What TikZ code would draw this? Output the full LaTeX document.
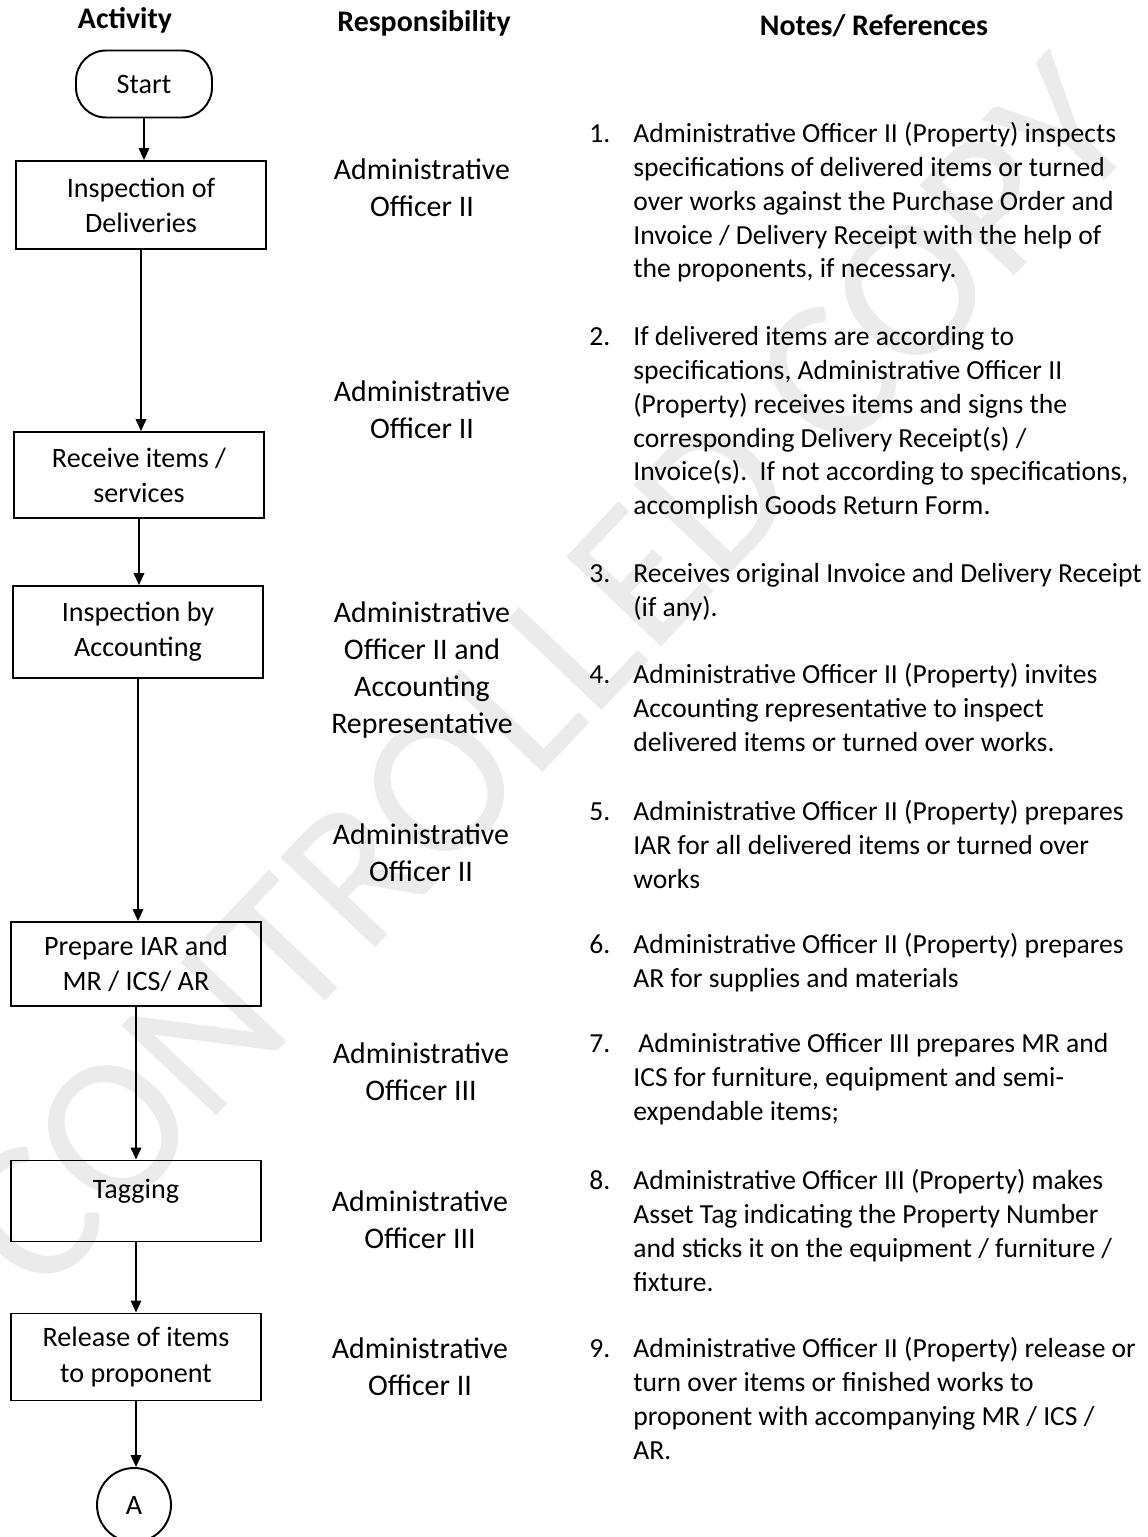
\documentclass[tikz,border=0pt]{standalone}
\usepackage{fontspec}
\setmainfont{Carlito}
\usetikzlibrary{arrows.meta,positioning}

\newcommand{\nt}[2]{\begin{tabular}{@{}p{0.88cm}@{}l@{}}#1 & #2\end{tabular}}

\begin{document}
\begin{tikzpicture}[x=0.02cm, y=-0.02cm,
        box/.style={draw, line width=1.1pt, minimum width=5cm, align=center, font=\fontsize{16}{20}\selectfont},
        resp/.style={align=center, font=\fontsize{17}{21}\selectfont},
        head/.style={font=\bfseries\fontsize{17}{21}\selectfont},
        note/.style={anchor=north west, inner sep=0pt, font=\fontsize{15.7}{19.2}\selectfont},
        arr/.style={line width=1.1pt, -{Triangle[length=0.24cm, width=0.21cm]}}]
        \useasboundingbox (0,0) rectangle (1147,1537);
        % watermark
        \node[rotate=46.5, text=black!8, font=\fontsize{116}{116}\selectfont] (wm) at (545,675) {CONTROLLED COPY};
        % column heads
        \node[head] (hact) at (125,20) {Activity};
        \node[head] (hresp) at (424,23) {Responsibility};
        \node[head] (hnote) at (874,26) {Notes/ References};
        % activity column
        \node[draw, line width=1.1pt, rounded corners=0.6cm, minimum width=2.72cm, minimum height=1.34cm, font=\fontsize{16}{20}\selectfont] (start) at (144,84) {Start};
        \node[box, minimum height=1.76cm] (ins) at (141,205) {Inspection of\\Deliveries};
        \node[box, minimum height=1.72cm] (rec) at (139,475) {Receive items /\\services};
        \node[box, minimum height=1.84cm] (acc) at (138,632) {Inspection by\\Accounting};
        \node[box, minimum height=1.68cm] (iar) at (136,964) {Prepare IAR and\\MR / ICS/ AR};
        \node[box, minimum height=1.62cm, text depth=0.5cm] (tag) at (136,1201) {Tagging};
        \node[box, minimum height=1.74cm] (rel) at (136,1357) {Release of items\\to proponent};
        \node[draw, circle, line width=1.1pt, minimum size=1.48cm, font=\fontsize{16}{20}\selectfont] (cona) at (134,1505) {A};
        \draw[arr] (start.south) -- (start.south |- ins.north);
        \draw[arr] (ins.south) -- (ins.south |- rec.north);
        \draw[arr] (rec.south) -- (rec.south |- acc.north);
        \draw[arr] (acc.south) -- (acc.south |- iar.north);
        \draw[arr] (iar.south) -- (iar.south |- tag.north);
        \draw[arr] (tag.south) -- (tag.south |- rel.north);
        \draw[arr] (rel.south) -- (rel.south |- cona.north);
        % responsibility column
        \node[resp] (r1) at (422,188) {Administrative\\Officer II};
        \node[resp] (r2) at (422,410) {Administrative\\Officer II};
        \node[resp] (r3) at (422,670) {Administrative\\Officer II and\\Accounting\\Representative};
        \node[resp] (r4) at (421,853) {Administrative\\Officer II};
        \node[resp] (r5) at (421,1072) {Administrative\\Officer III};
        \node[resp] (r6) at (420,1220) {Administrative\\Officer III};
        \node[resp] (r7) at (420,1367) {Administrative\\Officer II};
        % notes column
        \node[note] (n1) at (589,119) {\nt{1.}{Administrative Officer II (Property) inspects\\ & specifications of delivered items or turned\\ & over works against the Purchase Order and\\ & Invoice / Delivery Receipt with the help of\\ & the proponents, if necessary.}};
        \node[note] (n2) at (589,322) {\nt{2.}{If delivered items are according to\\ & specifications, Administrative Officer II\\ & (Property) receives items and signs the\\ & corresponding Delivery Receipt(s) /\\ & Invoice(s).\ \ If not according to specifications,\\ & accomplish Goods Return Form.}};
        \node[note] (n3) at (589,559) {\nt{3.}{Receives original Invoice and Delivery Receipt\\ & (if any).}};
        \node[note] (n4) at (589,660) {\nt{4.}{Administrative Officer II (Property) invites\\ & Accounting representative to inspect\\ & delivered items or turned over works.}};
        \node[note] (n5) at (589,797) {\nt{5.}{Administrative Officer II (Property) prepares\\ & IAR for all delivered items or turned over\\ & works}};
        \node[note] (n6) at (589,930) {\nt{6.}{Administrative Officer II (Property) prepares\\ & AR for supplies and materials}};
        \node[note] (n7) at (589,1029) {\nt{7.}{\hspace{0.1cm}Administrative Officer III prepares MR and\\ & ICS for furniture, equipment and semi-\\ & expendable items;}};
        \node[note] (n8) at (589,1166) {\nt{8.}{Administrative Officer III (Property) makes\\ & Asset Tag indicating the Property Number\\ & and sticks it on the equipment / furniture /\\ & fixture.}};
        \node[note] (n9) at (589,1334) {\nt{9.}{Administrative Officer II (Property) release or\\ & turn over items or finished works to\\ & proponent with accompanying MR / ICS /\\ & AR.}};
\end{tikzpicture}
\end{document}
